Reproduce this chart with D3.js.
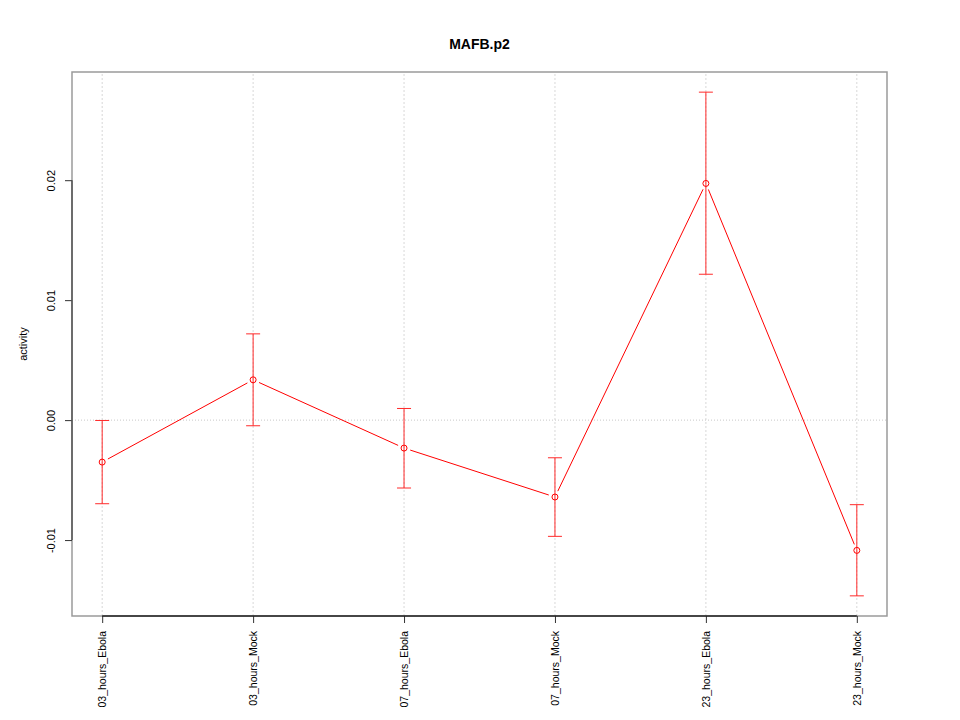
<!DOCTYPE html>
<html lang="en">
<head>
  <meta charset="UTF-8">
  <title>MAFB.p2</title>
  <script src="https://cdn.jsdelivr.net/npm/d3@7"></script>
  <style>
    body { margin: 0; background: #fff; }
    svg { font-family: "Liberation Sans", Arial, Helvetica, sans-serif; }
  </style>
</head>
<body>
<svg></svg>
<script>
  const categories = ["03_hours_Ebola", "03_hours_Mock", "07_hours_Ebola", "07_hours_Mock", "23_hours_Ebola", "23_hours_Mock"]
  const activity = [-0.00350, 0.00336, -0.00233, -0.00641, 0.01973, -0.01086]
  const upper = [-0.00003, 0.00719, 0.00097, -0.00314, 0.02734, -0.00705]
  const lower = [-0.00697, -0.00047, -0.00566, -0.00969, 0.01216, -0.01465]
  const yTicks = [-0.01, 0.00, 0.01, 0.02]

  const width = 960, height = 720
  const margin = ({top: 72, right: 73, bottom: 104, left: 72})

  const svg = d3.select('svg')
      .attr('width', width)
      .attr('height', height)

  const data = categories.map((c, i) => ({name: c, i, value: activity[i], hi: upper[i], lo: lower[i]}))

  // R style: 4% padding on each side
  const x = d3.scaleLinear()
      .domain([1 - 0.04 * 5, 6 + 0.04 * 5])
      .range([margin.left, width - margin.right])

  const yMin = d3.min(lower), yMax = d3.max(upper), pad = (yMax - yMin) * 0.04
  const y = d3.scaleLinear()
      .domain([yMin - pad, yMax + pad])
      .range([height - margin.bottom, margin.top])

  // grid
  svg.append("g")
      .selectAll("line")
      .data(data)
      .join("line")
      .attr("x1", d => x(d.i + 1)).attr("x2", d => x(d.i + 1))
      .attr("y1", y.range()[0]).attr("y2", y.range()[1])
      .attr("stroke", "#d8d8d8")
      .attr("stroke-dasharray", "2,2")

  svg.append("line")
      .attr("x1", x.range()[0]).attr("x2", x.range()[1])
      .attr("y1", y(0)).attr("y2", y(0))
      .attr("stroke", "#c8c8c8")
      .attr("stroke-dasharray", "1,2")

  // box
  svg.append("rect")
      .attr("x", x.range()[0]).attr("y", y.range()[1])
      .attr("width", x.range()[1] - x.range()[0])
      .attr("height", y.range()[0] - y.range()[1])
      .attr("fill", "none")
      .attr("stroke", "#9a9a9a")
      .attr("stroke-width", 1.5)

  // y axis
  const gy = svg.append("g")
      .attr("transform", `translate(${margin.left},0)`)
      .call(d3.axisLeft(y).tickValues(yTicks).tickFormat(d3.format(".2f")).tickSize(7).tickPadding(0))
  gy.select(".domain").remove()
  gy.selectAll(".tick line").attr("stroke", "#333")
  gy.selectAll(".tick text")
      .attr("font-size", 11)
      .attr("fill", "#000")
      .attr("transform", "rotate(-90)")
      .attr("x", 0).attr("y", -17)
      .attr("dy", 0)
      .attr("text-anchor", "middle")
      .text(d => d3.format(".2f")(d).replace("−", "-"))
  gy.append("line")
      .attr("y1", y(yTicks[0])).attr("y2", y(yTicks[yTicks.length - 1]))
      .attr("stroke", "#555").attr("stroke-width", 1.5)

  // x axis
  const gx = svg.append("g")
      .attr("transform", `translate(0,${height - margin.bottom})`)
      .call(d3.axisBottom(x).tickValues(d3.range(1, 7)).tickFormat(d => categories[d - 1]).tickSize(7).tickPadding(0))
  gx.select(".domain").remove()
  gx.selectAll(".tick line").attr("stroke", "#333")
  gx.selectAll(".tick text")
      .attr("font-size", 10.5)
      .attr("fill", "#000")
      .attr("transform", "rotate(-90)")
      .attr("x", -15).attr("y", 0)
      .attr("dy", "0.35em")
      .attr("text-anchor", "end")
  gx.append("line")
      .attr("x1", x(1)).attr("x2", x(6))
      .attr("stroke", "#222").attr("stroke-width", 1.5)

  // error bars
  const cap = 7
  const eb = svg.append("g").attr("stroke", "#ff2a2a").attr("fill", "none")
  eb.selectAll(".v").data(data).join("line")
      .attr("x1", d => x(d.i + 1)).attr("x2", d => x(d.i + 1))
      .attr("y1", d => y(d.lo)).attr("y2", d => y(d.hi))
  eb.selectAll(".t").data(data).join("line")
      .attr("x1", d => x(d.i + 1) - cap).attr("x2", d => x(d.i + 1) + cap)
      .attr("y1", d => y(d.hi)).attr("y2", d => y(d.hi))
  eb.selectAll(".b").data(data).join("line")
      .attr("x1", d => x(d.i + 1) - cap).attr("x2", d => x(d.i + 1) + cap)
      .attr("y1", d => y(d.lo)).attr("y2", d => y(d.lo))

  // line with gaps around points (type = "b")
  const gap = 6.5
  const segs = d3.pairs(data).map(([a, b]) => {
    const x0 = x(a.i + 1), y0 = y(a.value), x1 = x(b.i + 1), y1 = y(b.value)
    const len = Math.hypot(x1 - x0, y1 - y0), ux = (x1 - x0) / len, uy = (y1 - y0) / len
    return [x0 + ux * gap, y0 + uy * gap, x1 - ux * gap, y1 - uy * gap]
  })
  svg.append("g").selectAll("line").data(segs).join("line")
      .attr("x1", d => d[0]).attr("y1", d => d[1])
      .attr("x2", d => d[2]).attr("y2", d => d[3])
      .attr("stroke", "red")

  svg.append("g").selectAll("circle").data(data).join("circle")
      .attr("cx", d => x(d.i + 1)).attr("cy", d => y(d.value))
      .attr("r", 3)
      .attr("fill", "none")
      .attr("stroke", "red")

  // titles
  svg.append("text")
      .attr("x", (x.range()[0] + x.range()[1]) / 2)
      .attr("y", 49)
      .attr("text-anchor", "middle")
      .attr("font-size", 14)
      .attr("font-weight", "bold")
      .text("MAFB.p2")

  svg.append("text")
      .attr("transform", `translate(27,${(y.range()[0] + y.range()[1]) / 2}) rotate(-90)`)
      .attr("text-anchor", "middle")
      .attr("font-size", 11)
      .text("activity")
</script>
</body>
</html>
